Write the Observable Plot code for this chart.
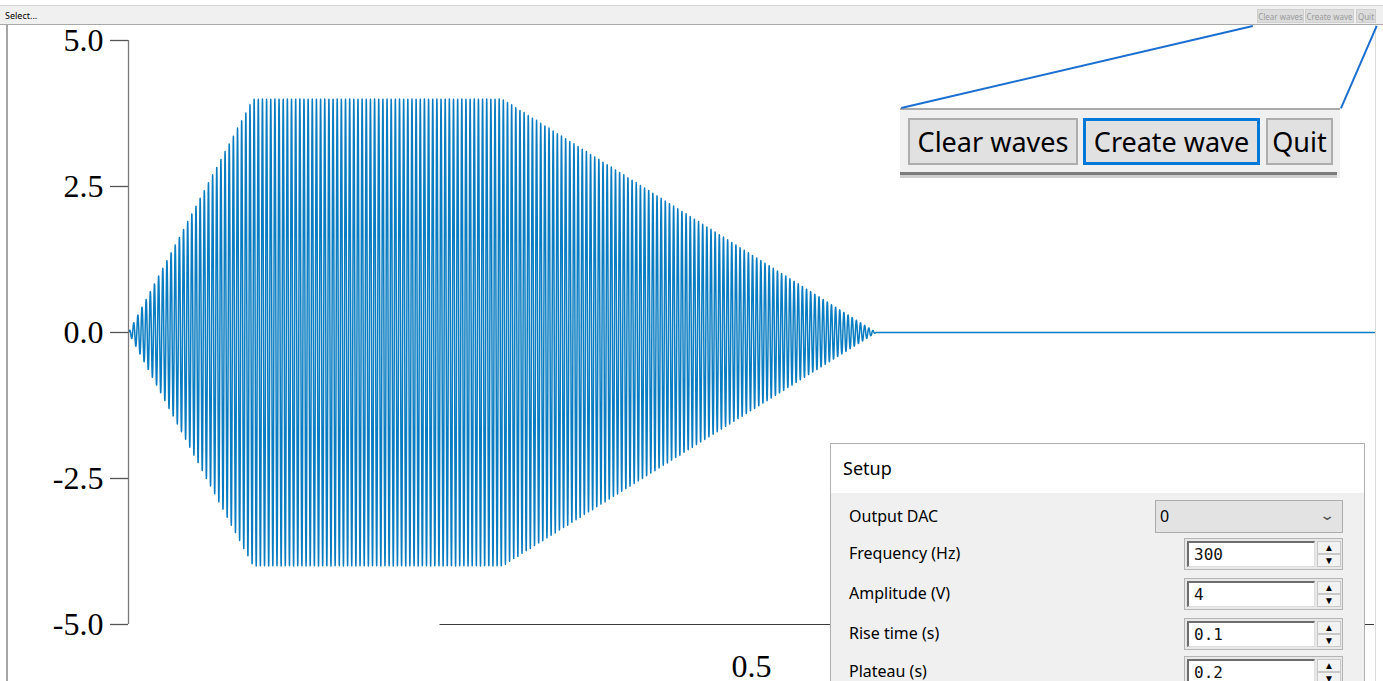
<!DOCTYPE html>
<html>
<head>
<meta charset="utf-8">
<script src="https://cdn.jsdelivr.net/npm/d3@7"></script>
<script src="https://cdn.jsdelivr.net/npm/@observablehq/plot@0.6"></script>
<style>
  html, body { margin: 0; padding: 0; background: #fff; }
  body { width: 1383px; height: 681px; overflow: hidden; position: relative; font-family: "Noto Sans", sans-serif; }
  .abs { position: absolute; box-sizing: border-box; }
  #chart { position: absolute; left: 0; top: 0; z-index: 1; }
  .ui { z-index: 5; }
  .btn { display: flex; align-items: center; justify-content: center; background: #e1e1e1; color: #000; }
  .lbl { font-size: 16px; color: #000; }
  .spin { border: 1px solid #b4b4b4; background: #e8e8e8; }
  .spin .inp { position: absolute; left: 2px; top: 2px; width: 128px; height: 26px; background: #fff;
               border-top: 2px solid #6d6d6d; border-left: 2px solid #6d6d6d; border-right: 1px solid #dcdcdc; border-bottom: 1px solid #dcdcdc;
               font-family: "DejaVu Sans Mono", monospace; font-size: 16px; line-height: 24px; padding-left: 5px; color: #111; box-sizing: border-box; }
  .spin .arr { position: absolute; left: 132px; width: 24px; height: 13px; background: #f3f3f3; border: 1px solid #c8c8c8;
               font-size: 10px; line-height: 11px; text-align: center; color: #000; box-sizing: border-box; }
</style>
</head>
<body>
<div id="chart"></div>
<script>
// ---- Data: waveform parameters as shown in the Setup panel ----
const frequencyHz = 300;
const amplitudeV = 4;
const riseTime = 0.1;
const plateauTime = 0.2;
const fallTime = 0.3;
const totalDuration = 1.0;
const sampleRate = 10000;
// envelope knots (time s, amplitude V)
const envelopeT = [0, riseTime, riseTime + plateauTime, riseTime + plateauTime + fallTime, totalDuration];
const envelopeA = [0, amplitudeV, amplitudeV, 0, 0];
// axis ticks
const yTicks = [-5, -2.5, 0, 2.5, 5];
const xTicks = [0.5];
const yDomain = [-5, 5];
const xDomain = [0, 1];
// setup panel rows
const setupLabels = ["Output DAC", "Frequency (Hz)", "Amplitude (V)", "Rise time (s)", "Plateau (s)"];
const setupValues = ["0", "300", "4", "0.1", "0.2"];
const buttonLabels = ["Clear waves", "Create wave", "Quit"];

const env = d3.scaleLinear(envelopeT, envelopeA).clamp(true);
const wave = [];
const n = Math.round(totalDuration * sampleRate);
for (let i = 0; i <= n; i++) {
  const t = i / sampleRate;
  wave.push({t, v: env(t) * Math.sin(2 * Math.PI * frequencyHz * t)});
}

const fmt = d => d.toFixed(1);

const plot = Plot.plot({
  width: 1383,
  height: 681,
  marginLeft: 128,
  marginRight: 9,
  marginTop: 40,
  marginBottom: 57,
  x: {domain: xDomain, label: null},
  y: {domain: yDomain, label: null},
  style: {background: "transparent", fontFamily: "'Liberation Serif', serif", fontSize: "32px", color: "#000", overflow: "visible"},
  marks: [
    Plot.line(wave, {x: "t", y: "v", stroke: "#0a7dc2", strokeWidth: 1.5}),
    Plot.ruleX([0], {y1: yDomain[0], y2: yDomain[1], stroke: "#7a7a7a", strokeWidth: 1.3}),
    Plot.ruleY([yDomain[0]], {x1: 0.25, x2: 1, stroke: "#3a3a3a", strokeWidth: 1.2}),
    Plot.axisY({ticks: yTicks, tickSize: 18, tickPadding: 7, tickFormat: fmt, stroke: "#555", fill: "#000", strokeWidth: 1.3, label: null}),
    Plot.axisX({ticks: xTicks, tickSize: 0, tickPadding: 30, tickFormat: fmt, fill: "#000", label: null})
  ]
});
document.getElementById("chart").appendChild(plot);

// ---- GUI chrome ----
function box(css, html) {
  const d = document.createElement("div");
  d.className = "abs ui";
  Object.assign(d.style, css);
  if (html !== undefined) d.innerHTML = html;
  document.body.appendChild(d);
  return d;
}
// top strip
box({left: "0px", top: "5px", width: "1383px", height: "1px", background: "#d6d6d6"});
box({left: "0px", top: "6px", width: "1383px", height: "19px", background: "#f0f0f0", borderBottom: "1px solid #a8a8a8"});
box({left: "5px", top: "9px", fontSize: "9px", color: "#000"}, "Select...");
// small disabled buttons
const smallBtns = [[1257, 47], [1305, 49], [1356, 20]];
smallBtns.forEach(([x, w], i) => {
  const b = box({left: x + "px", top: "9px", width: w + "px", height: "14px", border: "1px solid #cfcfcf", fontSize: "8px"}, buttonLabels[i]);
  b.classList.add("btn");
  b.style.background = "#dcdcdc";
  b.style.color = "#9a9a9a";
  b.style.whiteSpace = "nowrap";
});
// plot frame borders
box({left: "6px", top: "25px", width: "2px", height: "656px", background: "#a6a6a6"});
box({left: "1375px", top: "25px", width: "1px", height: "656px", background: "#dadada"});

// magnifier lines
function line(x1, y1, x2, y2) {
  const L = Math.hypot(x2 - x1, y2 - y1);
  const a = Math.atan2(y2 - y1, x2 - x1) * 180 / Math.PI;
  box({left: x1 + "px", top: y1 + "px", width: L + "px", height: "1.5px", background: "#1b6fd0", transformOrigin: "0 0", transform: `rotate(${a}deg)`, zIndex: 6});
}
line(901, 107, 1253, 25);
line(1340, 108, 1376, 25);

// inset with enlarged buttons
box({left: "900px", top: "108px", width: "440px", height: "70px", background: "#f0f0f0", borderTop: "2px solid #a9a9a9"});
box({left: "900px", top: "172px", width: "437px", height: "3px", background: "#7c7c7c"});
box({left: "900px", top: "175px", width: "437px", height: "3px", background: "#d0d0d0"});
const bigBtns = [[908, 170, "2px solid #adadad"], [1083, 177, "3px solid #0078d7"], [1266, 67, "2px solid #adadad"]];
bigBtns.forEach(([x, w, br], i) => {
  const b = box({left: x + "px", top: "118px", width: w + "px", height: "47px", border: br, fontSize: "27px", zIndex: 7}, buttonLabels[i]);
  b.classList.add("btn");
  b.style.whiteSpace = "nowrap";
});

// setup panel
box({left: "830px", top: "443px", width: "535px", height: "250px", background: "#f0f0f0", border: "1px solid #b0b0b0"});
box({left: "831px", top: "444px", width: "533px", height: "49px", background: "#fff", zIndex: 6});
box({left: "843px", top: "456px", fontSize: "18px", color: "#000", zIndex: 7}, "Setup");
const rowY = [517, 554, 594, 634, 672];
setupLabels.forEach((s, i) => {
  box({left: "849px", top: (rowY[i] - 12) + "px", zIndex: 7}, s).classList.add("lbl");
});
// combobox
box({left: "1155px", top: "500px", width: "188px", height: "33px", background: "#e3e3e3", border: "1px solid #adadad", zIndex: 7,
     fontSize: "16px", lineHeight: "31px", paddingLeft: "4px"}, setupValues[0]);
box({left: "1321px", top: "505px", fontSize: "14px", color: "#555", zIndex: 8, transform: "scaleX(1.4)"}, "&#8964;");
// spinboxes
const spinTop = [538, 578, 618, 656];
spinTop.forEach((y, i) => {
  const s = box({left: "1184px", top: y + "px", width: "159px", height: "32px", zIndex: 7});
  s.classList.add("spin");
  s.innerHTML = `<div class="inp">${setupValues[i + 1]}</div><div class="arr" style="top:2px">&#9650;</div><div class="arr" style="top:15px">&#9660;</div>`;
});
</script>
</body>
</html>
